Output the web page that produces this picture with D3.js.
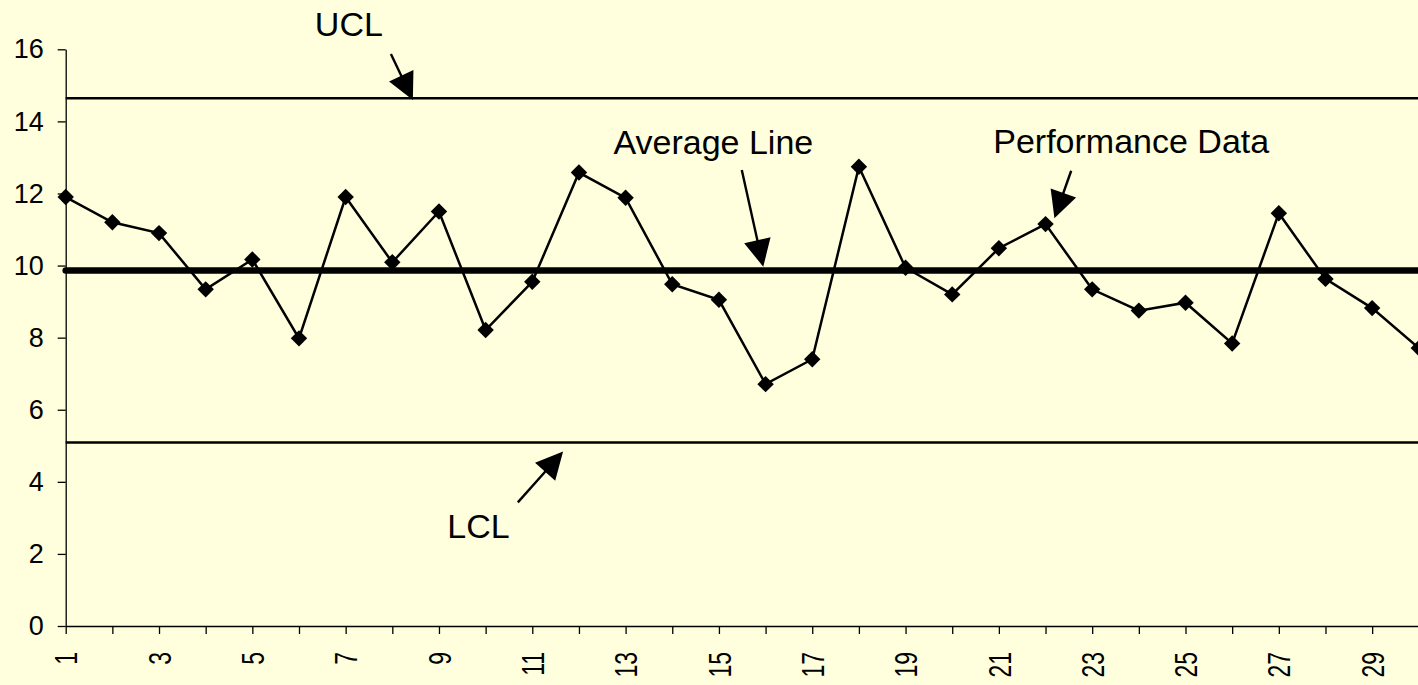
<!DOCTYPE html>
<html>
<head>
<meta charset="utf-8">
<script src="https://cdn.jsdelivr.net/npm/d3@7"></script>
<style>
  html, body { margin: 0; padding: 0; background: #FFFFDD; }
  svg { display: block; }
  text { font-family: Arial, "Liberation Sans", sans-serif; }
</style>
</head>
<body>
<svg id="chart" width="1418" height="685"></svg>
<script>
// ---- data ----
const categories = [1,2,3,4,5,6,7,8,9,10,11,12,13,14,15,16,17,18,19,20,21,22,23,24,25,26,27,28,29,30];
const performance = [11.90,11.20,10.90,9.34,10.17,7.98,11.90,10.09,11.50,8.21,
                     9.55,12.58,11.88,9.48,9.05,6.71,7.40,12.74,9.94,9.20,
                     10.48,11.15,9.34,8.75,8.97,7.84,11.45,9.63,8.82,7.71];
const uclValue = 14.64;
const averageValue = 9.86;
const lclValue = 5.09;
const yTicks = [0,2,4,6,8,10,12,14,16];
const xTickLabels = [1,3,5,7,9,11,13,15,17,19,21,23,25,27,29];

// annotation labels: [text, category, value] (data coordinates)
const labelTexts = ["UCL", "Average Line", "Performance Data", "LCL"];
const labelCats  = [6.34, 12.74, 20.88, 9.18];
const labelVals  = [16.38, 13.10, 13.12, 2.43];
// annotation arrows: start (cat, val) -> tip (cat, val)
const arrowStartCats = [7.97, 15.49, 22.55, 10.69];
const arrowStartVals = [15.87, 12.65, 12.63, 3.43];
const arrowTipCats   = [8.44, 15.95, 22.19, 11.66];
const arrowTipVals   = [14.59, 9.97, 11.31, 4.84];

// ---- chart ----
const svg = d3.select("#chart");
const W = 1418, H = 685;
svg.append("rect").attr("width", W).attr("height", H).attr("fill", "#FFFFDD");

const x = d3.scalePoint().domain(categories).range([65.7, 1418.8]);
const y = d3.scaleLinear().domain([0, 16]).range([626, 49.3]);
const xc = c => x(1) + (c - 1) * x.step();

// y axis
const gy = svg.append("g").attr("transform", `translate(${x(1)},0)`)
  .call(d3.axisLeft(y).tickValues(yTicks).tickSize(8).tickSizeOuter(0).tickPadding(14));
gy.selectAll("text").attr("font-size", 27).attr("fill", "#000")
  .attr("font-family", "Arial, 'Liberation Sans', sans-serif");
gy.selectAll("line, path").attr("stroke", "#000").attr("stroke-width", 1.3);

// x axis
const gx = svg.append("g").attr("transform", `translate(0,${y(0)})`)
  .call(d3.axisBottom(x).tickSize(8).tickSizeOuter(0)
    .tickFormat(d => xTickLabels.includes(d) ? d : ""));
gx.selectAll("line, path").attr("stroke", "#000").attr("stroke-width", 1.3);
gx.selectAll("text")
  .attr("font-size", 31).attr("fill", "#000")
  .attr("font-family", "Arial, 'Liberation Sans', sans-serif")
  .attr("text-anchor", "end")
  .attr("transform", "rotate(-90) scale(0.74,1)")
  .attr("x", -26 / 0.74)
  .attr("y", 0)
  .attr("dy", "0.36em");

// control lines
const flat = v => categories.map(c => ({c, v}));
const line = d3.line().x(d => x(d.c)).y(d => y(d.v));

svg.append("path").datum(flat(uclValue)).attr("d", line)
  .attr("fill", "none").attr("stroke", "#000").attr("stroke-width", 2.4);
svg.append("path").datum(flat(lclValue)).attr("d", line)
  .attr("fill", "none").attr("stroke", "#000").attr("stroke-width", 2.4);
svg.append("path").datum(flat(averageValue)).attr("d", line)
  .attr("fill", "none").attr("stroke", "#000").attr("stroke-width", 6.5)
  .attr("stroke-linecap", "round");

// performance series
const perf = categories.map((c, i) => ({c, v: performance[i]}));
svg.append("path").datum(perf).attr("d", line)
  .attr("fill", "none").attr("stroke", "#000").attr("stroke-width", 2.5);
const sym = d3.symbol().type(d3.symbolSquare).size(135);
svg.selectAll(".pt").data(perf).join("path").attr("class", "pt")
  .attr("d", sym)
  .attr("transform", d => `translate(${x(d.c)},${y(d.v)}) rotate(45)`)
  .attr("fill", "#000");

// annotations
labelTexts.forEach((t, i) => {
  svg.append("text").text(t)
    .attr("x", xc(labelCats[i])).attr("y", y(labelVals[i]))
    .attr("font-size", 34).attr("fill", "#000");
});
arrowStartCats.forEach((sc, i) => {
  const x0 = xc(sc), y0 = y(arrowStartVals[i]);
  const x1 = xc(arrowTipCats[i]), y1 = y(arrowTipVals[i]);
  const dx = x1 - x0, dy = y1 - y0, len = Math.hypot(dx, dy);
  const ux = dx / len, uy = dy / len;
  const hl = 27, hw = 13.5;
  const bx = x1 - ux * hl, by = y1 - uy * hl;
  svg.append("line").attr("x1", x0).attr("y1", y0).attr("x2", bx + ux * 2).attr("y2", by + uy * 2)
    .attr("stroke", "#000").attr("stroke-width", 2.4);
  svg.append("path")
    .attr("d", `M${x1},${y1}L${bx - uy * hw},${by + ux * hw}L${bx + uy * hw},${by - ux * hw}Z`)
    .attr("fill", "#000");
});
</script>
</body>
</html>
